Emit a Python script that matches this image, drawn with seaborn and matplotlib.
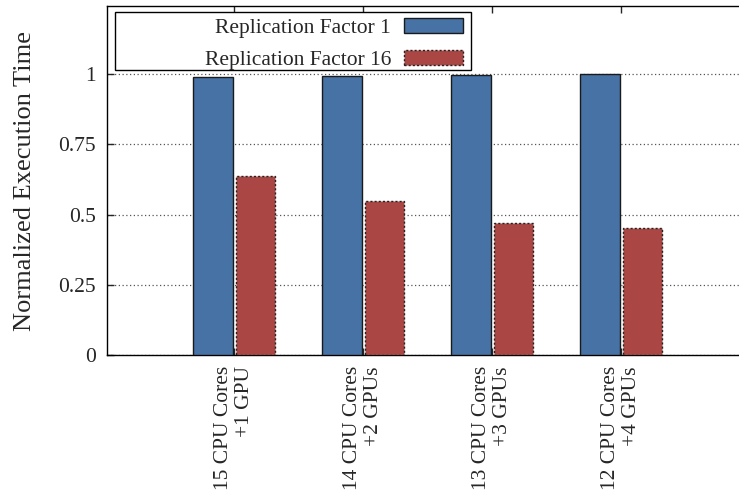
import matplotlib
matplotlib.use("Agg")
import matplotlib.pyplot as plt
import seaborn as sns
import pandas as pd
from matplotlib.patches import Rectangle

categories = ["15 CPU Cores\n+1 GPU", "14 CPU Cores\n+2 GPUs",
              "13 CPU Cores\n+3 GPUs", "12 CPU Cores\n+4 GPUs"]
series_names = ["Replication Factor 1", "Replication Factor 16"]
rf1 = [0.989, 0.993, 0.998, 1.0]
rf16 = [0.637, 0.548, 0.470, 0.452]
ytick_vals = [0, 0.25, 0.5, 0.75, 1]
ytick_labels = ["0", "0.25", "0.5", "0.75", "1"]

df = pd.DataFrame({
    "cat": categories * 2,
    "series": [series_names[0]] * 4 + [series_names[1]] * 4,
    "value": rf1 + rf16,
})

sns.set_style("white")
plt.rcParams["font.family"] = ["Liberation Serif", "DejaVu Serif"]
plt.rcParams["font.size"] = 15.5

colors = ["#4672A5", "#AA4643"]

fig = plt.figure(figsize=(7.39, 4.90), dpi=100)
ax = fig.add_axes([107 / 739, 1 - 355 / 490, 643 / 739, 349 / 490])

sns.barplot(data=df, x="cat", y="value", hue="series", palette=colors,
            width=0.665, gap=0.07, ax=ax, zorder=3, saturation=1,
            edgecolor="black", linewidth=1.0, legend=False)

for i, cont in enumerate(ax.containers):
    for p in cont:
        if i == 1:
            p.set_linestyle((0, (1.5, 1.5)))
            p.set_edgecolor("#222222")
        else:
            p.set_edgecolor("#1a1a1a")

ax.set_xlim(-0.985, 4.0)
ax.set_ylim(0, 1.242)
ax.set_yticks(ytick_vals)
ax.set_yticklabels(ytick_labels)
ax.set_xlabel("")
ax.set_ylabel("Normalized Execution Time", fontsize=19, labelpad=16)

ax.yaxis.grid(True, linestyle=(0, (1, 2)), color="#555555", linewidth=0.9, zorder=0)
ax.set_axisbelow(True)
for s in ax.spines.values():
    s.set_linewidth(1.0)
    s.set_color("black")

ax.tick_params(axis="y", direction="in", length=5, width=1, left=True, right=True, pad=8)
ax.tick_params(axis="x", direction="in", length=5, width=1, bottom=True, top=True, pad=8)
for lbl in ax.get_xticklabels():
    lbl.set_rotation(90)
    lbl.set_ha("center")
    lbl.set_va("top")
    lbl.set_multialignment("right")

# legend frame
ax.add_patch(Rectangle((8 / 643, (355 - 70) / 349), (471 - 115) / 643, 58 / 349,
                       transform=ax.transAxes, facecolor="white", edgecolor="black",
                       linewidth=1.0, zorder=5))
handles = [Rectangle((0, 0), 1, 1, facecolor=colors[0], edgecolor="#1a1a1a", linewidth=1.0),
           Rectangle((0, 0), 1, 1, facecolor=colors[1], edgecolor="#222222", linewidth=1.0,
                     linestyle=(0, (1.5, 1.5)))]
leg = ax.legend(handles, series_names, loc="upper right", frameon=False,
                markerfirst=False, bbox_to_anchor=((463 - 107) / 643, (355 - 18) / 349),
                borderaxespad=0, borderpad=0, handlelength=2.75, handleheight=0.7,
                handletextpad=0.6, labelspacing=0.55)
leg.set_zorder(6)

fig.savefig("out.png", dpi=100)
